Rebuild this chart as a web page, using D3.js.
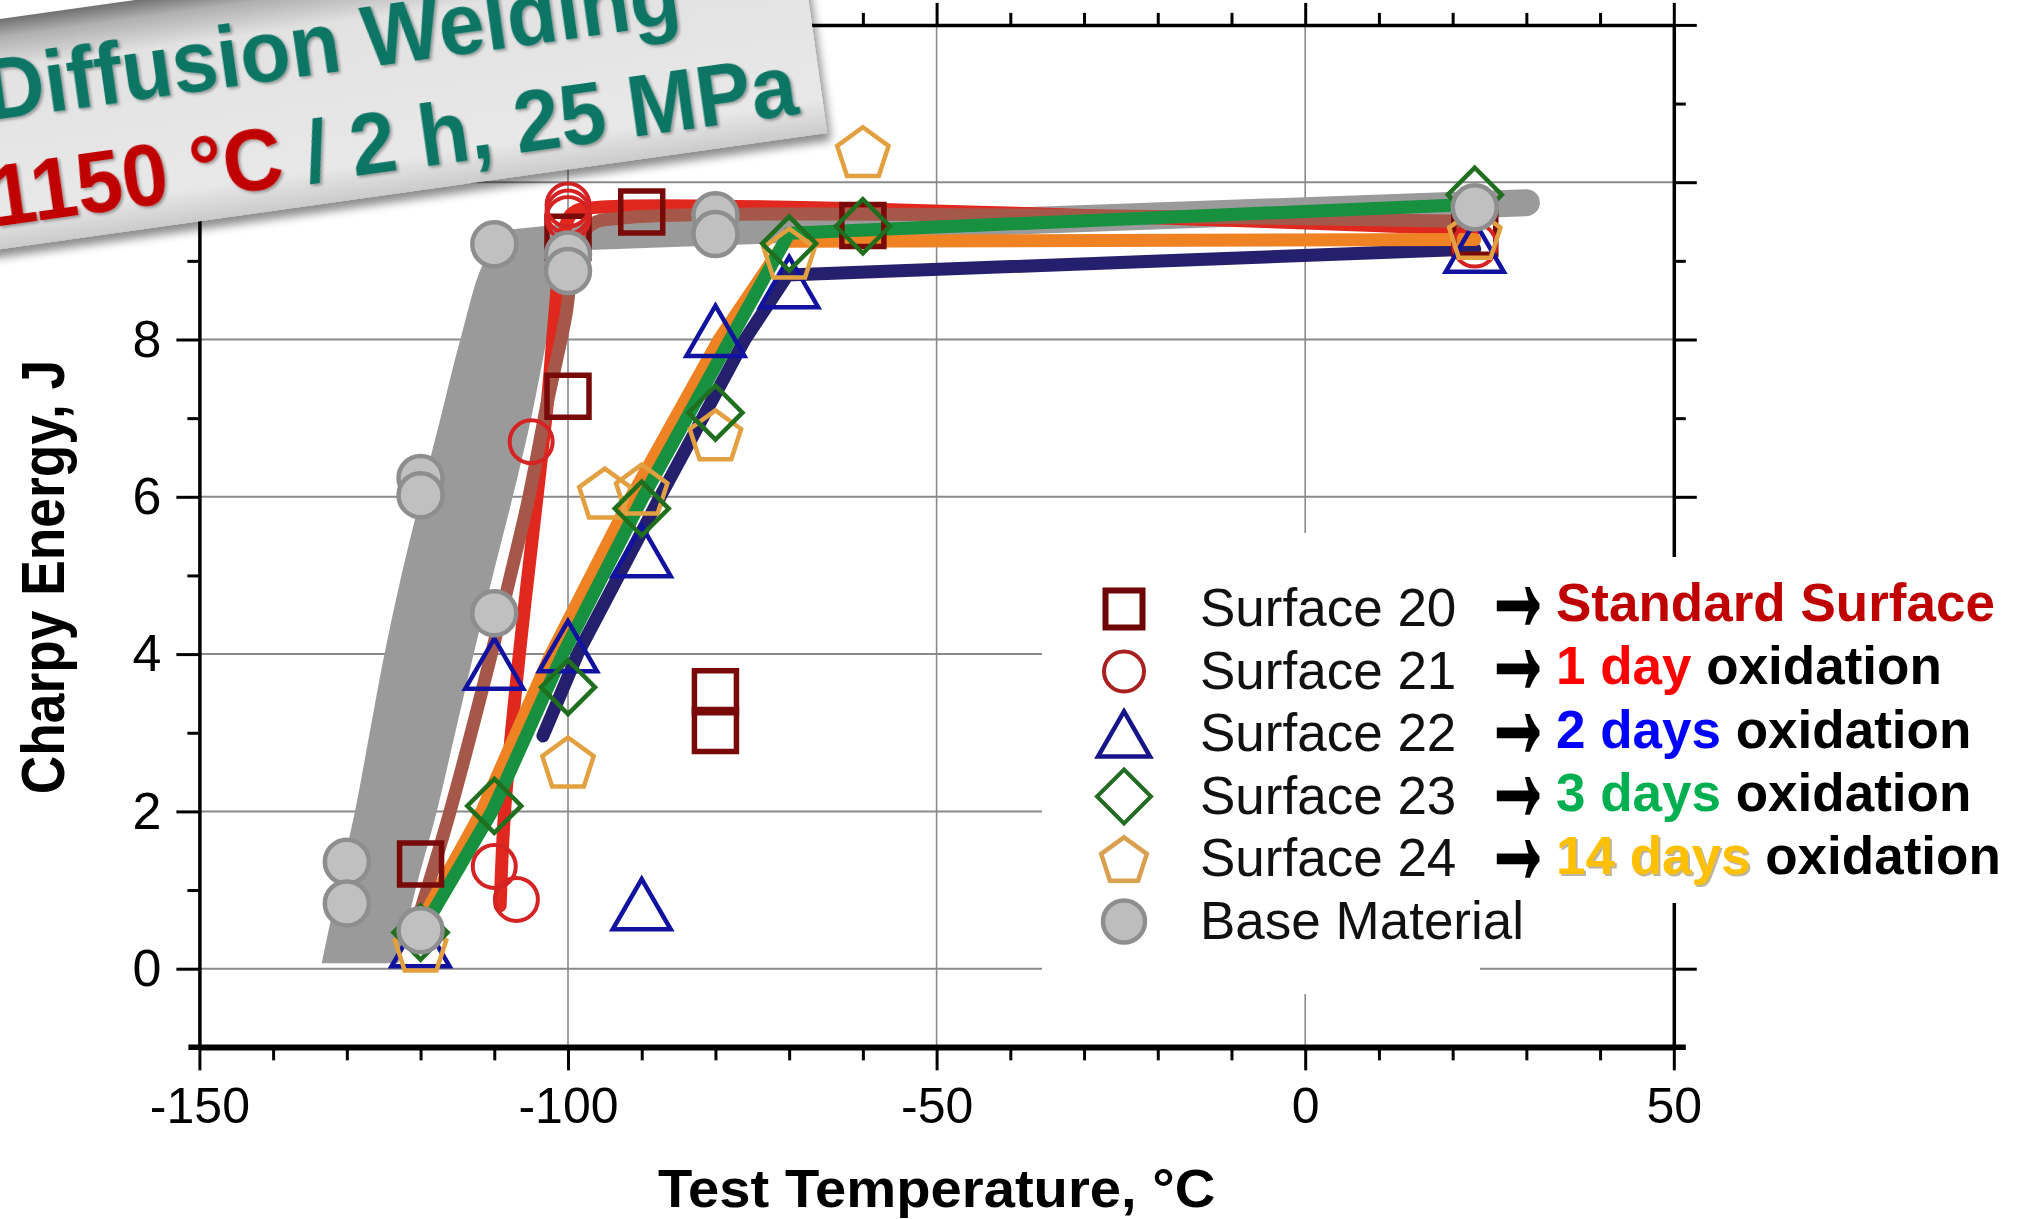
<!DOCTYPE html>
<html><head><meta charset="utf-8">
<script src="https://cdn.jsdelivr.net/npm/d3@7"></script>
<style>
html,body{margin:0;padding:0;background:#fff;}
svg{display:block;}
text{font-family:"Liberation Sans", Arial, sans-serif;}
</style></head><body>
<svg id="chart" width="2017" height="1219"></svg>
<script>
// ---------- axis ticks ----------
const xMajorTicks = [-150, -100, -50, 0, 50];
const yMajorTicks = [0, 2, 4, 6, 8, 10, 12];
const yTickLabels = ["0", "2", "4", "6", "8", "10", ""];
const yMinorTicks = [1, 3, 5, 7, 9, 11];
const xGridValues = [-100, -50, 0];
const yGridValues = [0, 2, 4, 6, 8, 10];

// ---------- measured data (markers) ----------
const s20Temp   = [-120, -100, -100, -90, -80, -80, -60, 23];
const s20Energy = [1.33, 7.28, 9.3, 9.62, 3.52, 3.03, 9.45, 9.35];
const s21Temp   = [-110, -107, -105, -100, -100, -100, 23];
const s21Energy = [1.3, 0.88, 6.7, 9.71, 9.62, 9.54, 9.2];
const s22Temp   = [-120, -110, -100, -90, -90, -80, -70, 23];
const s22Energy = [0.35, 3.88, 4.1, 5.31, 0.82, 8.11, 8.73, 9.18];
const s23Temp   = [-120, -110, -100, -90, -80, -70, -60, 23];
const s23Energy = [0.46, 2.07, 3.58, 5.85, 7.07, 9.22, 9.44, 9.84];
const s24Temp   = [-120, -100, -95, -90, -80, -70, -60, 23];
const s24Energy = [0.29, 2.63, 6.05, 6.1, 6.79, 9.1, 10.39, 9.35];
const baseTemp   = [-130, -130, -120, -120, -120, -110, -110, -100, -100, -80, -80, 23];
const baseEnergy = [1.36, 0.83, 0.49, 6.24, 6.02, 4.52, 9.21, 9.08, 8.87, 9.58, 9.34, 9.68];

// ---------- trend curves ----------
const fit20Temp   = [-120.8, -116, -110.4, -107.8, -105.3, -102.8, -100.3, -99.2, -97, -92, 23];
const fit20Energy = [0.5, 2, 4, 5, 6, 7.2, 8.3, 9.0, 9.45, 9.55, 9.5];
const fit21Temp   = [-109.2, -108.6, -106.6, -104.2, -102.8, -101.8, -100.8, -99.5, -96, 23];
const fit21Energy = [0.8, 2, 4, 6, 7.2, 8.3, 9.2, 9.6, 9.68, 9.4];
const fit22Temp   = [-103.4, -98.7, -87.5, -76, -70.2, 23];
const fit22Energy = [2.96, 4, 6, 8, 8.82, 9.15];
const fit23Temp   = [-120, -110.3, -100.7, -89.8, -78, -70, 23];
const fit23Energy = [0.45, 2, 4, 6, 8, 9.35, 9.72];
const fit24Temp   = [-120.5, -111.7, -102.3, -91.4, -79.5, -70.5, 23];
const fit24Energy = [0.5, 2, 4, 6, 8, 9.25, 9.27];
const baseLineTemp   = [-108.5, -100, 30];
const baseLineEnergy = [9.22, 9.3, 9.74];
const bandEnergy   = [0.07, 1, 2, 3, 4, 5, 6, 7, 8, 9, 9.3];
const bandLowTemp  = [-133.4, -131.3, -128.9, -126.9, -124.9, -122.6, -120, -117.3, -114.6, -111.3, -108.5];
const bandHighTemp = [-123, -120.7, -117.8, -115.3, -112.8, -110.2, -107.5, -105, -102.9, -101, -100];

// ---------- legend / text ----------
const legendLabels = ["Surface 20", "Surface 21", "Surface 22", "Surface 23", "Surface 24", "Base Material"];
const notePrefix = ["Standard Surface", "1 day", "2 days", "3 days", "14 days"];
const noteSuffix = ["", " oxidation", " oxidation", " oxidation", " oxidation"];
const noteColors = ["#c00000", "#ff0000", "#0000ff", "#00b050", "#ffc000"];
const arrowText = "→";
const titleLine1 = "Diffusion Welding";
const titleLine2a = "1150 °C";
const titleLine2b = " / 2 h, 25 MPa";
const xTitle = "Test Temperature, °C";
const yTitle = "Charpy Energy, J";

// ---------- setup ----------
const svg = d3.select("#chart");
const x = d3.scaleLinear().domain([-150, 50]).range([199.4, 1673.8]);
const y = d3.scaleLinear().domain([-1, 12]).range([1047.35, 24.9]);

const defs = svg.append("defs");
const bg = defs.append("linearGradient").attr("id", "bgrad").attr("x1", 0).attr("y1", 0).attr("x2", 0).attr("y2", 1);
[[0, "#707070"], [0.08, "#b0b0b0"], [0.22, "#e2e2e2"], [0.85, "#e8e8e8"], [1, "#cbcbcb"]]
  .forEach(s => bg.append("stop").attr("offset", s[0]).attr("stop-color", s[1]));
defs.append("filter").attr("id", "bshadow").attr("x", "-10%").attr("y", "-20%").attr("width", "130%").attr("height", "160%")
  .append("feDropShadow").attr("dx", 3).attr("dy", 8).attr("stdDeviation", 5).attr("flood-color", "#000").attr("flood-opacity", 0.45);
defs.append("filter").attr("id", "tshadow").attr("x", "-5%").attr("y", "-20%").attr("width", "110%").attr("height", "150%")
  .append("feDropShadow").attr("dx", 2).attr("dy", 2).attr("stdDeviation", 1.5).attr("flood-color", "#000").attr("flood-opacity", 0.35);

// ---------- gridlines ----------
const grid = svg.append("g");
grid.selectAll("line.h").data(yGridValues).join("line")
  .attr("x1", x(-150)).attr("x2", x(50)).attr("y1", d => y(d)).attr("y2", d => y(d))
  .attr("stroke", "#8a8a8a").attr("stroke-width", 2);
grid.selectAll("line.v").data(xGridValues).join("line")
  .attr("y1", y(-1)).attr("y2", y(12)).attr("x1", d => x(d)).attr("x2", d => x(d))
  .attr("stroke", "#8a8a8a").attr("stroke-width", 1.6);

// ---------- axes ----------
function styleAxis(g, w) {
  g.select(".domain").attr("stroke", "#000").attr("stroke-width", w);
  g.selectAll(".tick line").attr("stroke", "#000").attr("stroke-width", 3);
  g.selectAll(".tick text").attr("fill", "#000").attr("font-family", "Liberation Sans, Arial, sans-serif");
}
const xMinor = d3.range(-140, 50, 10).filter(v => v % 50 !== 0);
const fmt = d => String(d);

const gB = svg.append("g").attr("transform", `translate(0,${y(-1)})`)
  .call(d3.axisBottom(x).tickValues(xMajorTicks).tickSize(23).tickPadding(17).tickSizeOuter(0).tickFormat(fmt));
styleAxis(gB, 5.5);
gB.selectAll(".tick text").attr("font-size", 50);
svg.append("g").attr("transform", `translate(0,${y(-1)})`)
  .call(d3.axisBottom(x).tickValues(xMinor).tickSize(13).tickFormat(""))
  .call(g => { g.select(".domain").remove(); g.selectAll("line").attr("stroke", "#000").attr("stroke-width", 3); });
svg.append("line").attr("x1", x(-150) - 11).attr("x2", x(50) + 12).attr("y1", y(-1)).attr("y2", y(-1))
  .attr("stroke", "#000").attr("stroke-width", 5.5);

const gT = svg.append("g").attr("transform", `translate(0,${y(12)})`)
  .call(d3.axisTop(x).tickValues(xMajorTicks).tickSize(22).tickSizeOuter(0).tickFormat(""));
styleAxis(gT, 3.5);
svg.append("g").attr("transform", `translate(0,${y(12)})`)
  .call(d3.axisTop(x).tickValues(xMinor).tickSize(12).tickFormat(""))
  .call(g => { g.select(".domain").remove(); g.selectAll("line").attr("stroke", "#000").attr("stroke-width", 3); });

const gL = svg.append("g").attr("transform", `translate(${x(-150)},0)`)
  .call(d3.axisLeft(y).tickValues(yMajorTicks).tickSize(23).tickPadding(15).tickSizeOuter(0)
    .tickFormat((d, i) => yTickLabels[i]));
styleAxis(gL, 3.5);
gL.selectAll(".tick text").attr("font-size", 52);
svg.append("g").attr("transform", `translate(${x(-150)},0)`)
  .call(d3.axisLeft(y).tickValues(yMinorTicks).tickSize(12).tickFormat(""))
  .call(g => { g.select(".domain").remove(); g.selectAll("line").attr("stroke", "#000").attr("stroke-width", 3); });

const gR = svg.append("g").attr("transform", `translate(${x(50)},0)`)
  .call(d3.axisRight(y).tickValues(yMajorTicks).tickSize(23).tickSizeOuter(0).tickFormat(""));
styleAxis(gR, 3.5);
svg.append("g").attr("transform", `translate(${x(50)},0)`)
  .call(d3.axisRight(y).tickValues(yMinorTicks).tickSize(12).tickFormat(""))
  .call(g => { g.select(".domain").remove(); g.selectAll("line").attr("stroke", "#000").attr("stroke-width", 3); });

// axis titles
svg.append("text").attr("transform", `translate(${x(-50)},1207) scale(1.06,1)`)
  .attr("text-anchor", "middle").attr("font-size", 53).attr("font-weight", "bold").attr("fill", "#000").text(xTitle);
svg.append("text").attr("transform", `translate(64,577) rotate(-90) scale(0.86,1)`)
  .attr("text-anchor", "middle").attr("font-size", 62).attr("font-weight", "bold").attr("fill", "#000").text(yTitle);

// ---------- curves ----------
const zip = (a, b) => a.map((v, i) => [v, b[i]]);
const plot = svg.append("g");
const band = bandEnergy.map((e, i) => ({ e, lo: bandLowTemp[i], hi: bandHighTemp[i] }));
plot.append("path").datum(band)
  .attr("d", d3.area().y(d => y(d.e)).x0(d => x(d.lo)).x1(d => x(d.hi)).curve(d3.curveCatmullRom))
  .attr("fill", "#9a9a9a");
const lineLin = d3.line().x(d => x(d[0])).y(d => y(d[1]));
const lineCurve = d3.line().x(d => x(d[0])).y(d => y(d[1])).curve(d3.curveCatmullRom.alpha(0.5));
plot.append("path").datum(zip(baseLineTemp, baseLineEnergy)).attr("d", lineLin)
  .attr("fill", "none").attr("stroke", "#9a9a9a").attr("stroke-width", 27).attr("stroke-linecap", "round").attr("stroke-linejoin", "round");

const fits = [
  { t: fit22Temp, e: fit22Energy, c: "#25206e", curve: false },
  { t: fit21Temp, e: fit21Energy, c: "#e0281f", curve: true },
  { t: fit20Temp, e: fit20Energy, c: "#a5584a", curve: true },
  { t: fit24Temp, e: fit24Energy, c: "#ef8323", curve: false },
  { t: fit23Temp, e: fit23Energy, c: "#17903f", curve: false }
];
fits.forEach(f => {
  plot.append("path").datum(zip(f.t, f.e)).attr("d", f.curve ? lineCurve : lineLin)
    .attr("fill", "none").attr("stroke", f.c).attr("stroke-width", 13)
    .attr("stroke-linecap", "round").attr("stroke-linejoin", "round");
});

// ---------- markers ----------
function shapePath(shape, s) {
  if (shape === "square") return `M${-s/2},${-s/2}H${s/2}V${s/2}H${-s/2}Z`;
  if (shape === "circle") return `M${s},0A${s},${s} 0 1,1 ${-s},0A${s},${s} 0 1,1 ${s},0Z`;
  if (shape === "triangle") { const h = s * 0.866; return `M0,${-h/2}L${s/2},${h/2}L${-s/2},${h/2}Z`; }
  if (shape === "diamond") return `M0,${-s}L${s},0L0,${s}L${-s},0Z`;
  if (shape === "pentagon") {
    const pts = d3.range(5).map(k => { const a = (-90 + 72 * k) * Math.PI / 180; return [s * Math.cos(a), s * Math.sin(a) + s * 0.1]; });
    return "M" + pts.map(p => p.join(",")).join("L") + "Z";
  }
}
const series = [
  { t: s20Temp, e: s20Energy, shape: "square", size: 42, stroke: "#780a0a", sw: 5.5, fill: "none" },
  { t: s21Temp, e: s21Energy, shape: "circle", size: 21.5, stroke: "#d52222", sw: 4, fill: "none" },
  { t: s22Temp, e: s22Energy, shape: "triangle", size: 58, stroke: "#1212a0", sw: 4.5, fill: "none" },
  { t: s24Temp, e: s24Energy, shape: "pentagon", size: 27, stroke: "#e3a040", sw: 4.5, fill: "none" },
  { t: s23Temp, e: s23Energy, shape: "diamond", size: 27, stroke: "#1f6f1f", sw: 4.5, fill: "none" },
  { t: baseTemp, e: baseEnergy, shape: "circle", size: 22, stroke: "#8e8e8e", sw: 4.5, fill: "#c0c0c0" }
];
series.forEach(s => {
  plot.append("g").selectAll("path").data(zip(s.t, s.e)).join("path")
    .attr("transform", d => `translate(${x(d[0])},${y(d[1])})`)
    .attr("d", shapePath(s.shape, s.size))
    .attr("fill", s.fill).attr("stroke", s.stroke).attr("stroke-width", s.sw).attr("stroke-linejoin", "miter");
});

// ---------- legend ----------
svg.append("rect").attr("x", 1042).attr("y", 533).attr("width", 438).attr("height", 461).attr("fill", "#fff");
svg.append("rect").attr("x", 1480).attr("y", 557).attr("width", 537).attr("height", 346).attr("fill", "#fff");
const legendShapes = [
  { shape: "square", size: 37, stroke: "#6e0606", sw: 6, fill: "none" },
  { shape: "circle", size: 20, stroke: "#a82020", sw: 4, fill: "none" },
  { shape: "triangle", size: 52, stroke: "#16168a", sw: 4.5, fill: "none" },
  { shape: "diamond", size: 27, stroke: "#246b24", sw: 4, fill: "none" },
  { shape: "pentagon", size: 24, stroke: "#d9a050", sw: 4.5, fill: "none" },
  { shape: "circle", size: 21, stroke: "#8e8e8e", sw: 4.5, fill: "#bdbdbd" }
];
const legG = svg.append("g");
legendLabels.forEach((lab, i) => {
  const cy = 609 + i * 62.5;
  const ls = legendShapes[i];
  legG.append("path").attr("transform", `translate(1124,${cy})`).attr("d", shapePath(ls.shape, ls.size))
    .attr("fill", ls.fill).attr("stroke", ls.stroke).attr("stroke-width", ls.sw);
  legG.append("text").attr("x", 1200).attr("y", cy + 17).attr("font-size", 53).attr("fill", "#111").text(lab);
});
notePrefix.forEach((p, i) => {
  const base = 621 + i * 63.3;
  legG.append("text").attr("transform", `translate(1484,${base + 8}) scale(0.68,1.4)`)
    .attr("font-size", 100).attr("font-weight", "bold")
    .attr("font-family", "DejaVu Sans, sans-serif").attr("fill", "#000")
    .attr("stroke", "#000").attr("stroke-width", 3.5).text(arrowText);
  if (i === 4) {
    legG.append("text").attr("x", 1558).attr("y", base + 2).attr("font-size", 53).attr("font-weight", "bold")
      .attr("fill", "#8a7a50").attr("opacity", 0.55).text(p);
  }
  const t = legG.append("text").attr("x", 1556).attr("y", base).attr("font-size", 53).attr("font-weight", "bold");
  t.append("tspan").attr("fill", noteColors[i]).text(p);
  if (noteSuffix[i]) t.append("tspan").attr("fill", "#000").text(noteSuffix[i]);
});

// ---------- title banner ----------
const ban = svg.append("g").attr("transform", "translate(0,226) rotate(-8)");
ban.append("rect").attr("x", -80).attr("y", -205).attr("width", 912).attr("height", 228)
  .attr("fill", "url(#bgrad)").attr("filter", "url(#bshadow)");
ban.append("text").attr("transform", "translate(4,-106) scale(0.95,1)")
  .attr("font-size", 87).attr("font-weight", "bold").attr("fill", "#0b7464").attr("filter", "url(#tshadow)")
  .text(titleLine1);
const t2 = ban.append("text").attr("transform", "translate(-6,0) scale(0.95,1)")
  .attr("font-size", 87).attr("font-weight", "bold").attr("filter", "url(#tshadow)");
t2.append("tspan").attr("fill", "#c00000").text(titleLine2a);
t2.append("tspan").attr("fill", "#0b7464").text(titleLine2b);
</script>
</body></html>
